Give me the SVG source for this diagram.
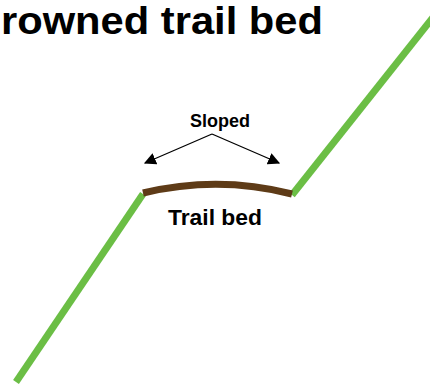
<svg xmlns="http://www.w3.org/2000/svg" width="430" height="385" viewBox="0 0 430 385">
<defs>
<style>
.t{font-family:"Liberation Sans",Arial,sans-serif;font-weight:bold;fill:#000}
.g{stroke:#6BBE45;stroke-width:7;fill:none;stroke-linecap:butt;stroke-linejoin:round}
.b{stroke:#5E3B17;stroke-width:7;fill:none}
.a{stroke:#000;stroke-width:1.3;fill:none}
</style>
<marker id="ah" viewBox="0 0 10 10" refX="9" refY="5" markerWidth="12" markerHeight="12" markerUnits="userSpaceOnUse" orient="auto">
<path d="M0,0 L10,5 L0,10 z" fill="#000"/>
</marker>
</defs>
<rect width="430" height="385" fill="#fff"/>
<g id="title"><text class="t" x="1" y="34" font-size="38" textLength="322" lengthAdjust="spacingAndGlyphs">rowned trail bed</text></g>
<g id="slope-left"><path class="g" d="M16,382 L143,194"/></g>
<g id="slope-right"><path class="g" d="M292,195 L434,16"/></g>
<g id="trail-bed"><path class="b" d="M143,193 Q218,175 292,194"/><text class="t" x="215" y="225" font-size="22" text-anchor="middle" textLength="94" lengthAdjust="spacingAndGlyphs">Trail bed</text></g>
<g id="sloped"><text class="t" x="220" y="127" font-size="19" text-anchor="middle" textLength="60" lengthAdjust="spacingAndGlyphs">Sloped</text></g>
<g id="connectors">
<path class="a" d="M212,134 L145,163" marker-end="url(#ah)"/>
<path class="a" d="M212,134 L279,163" marker-end="url(#ah)"/>
</g>
</svg>
